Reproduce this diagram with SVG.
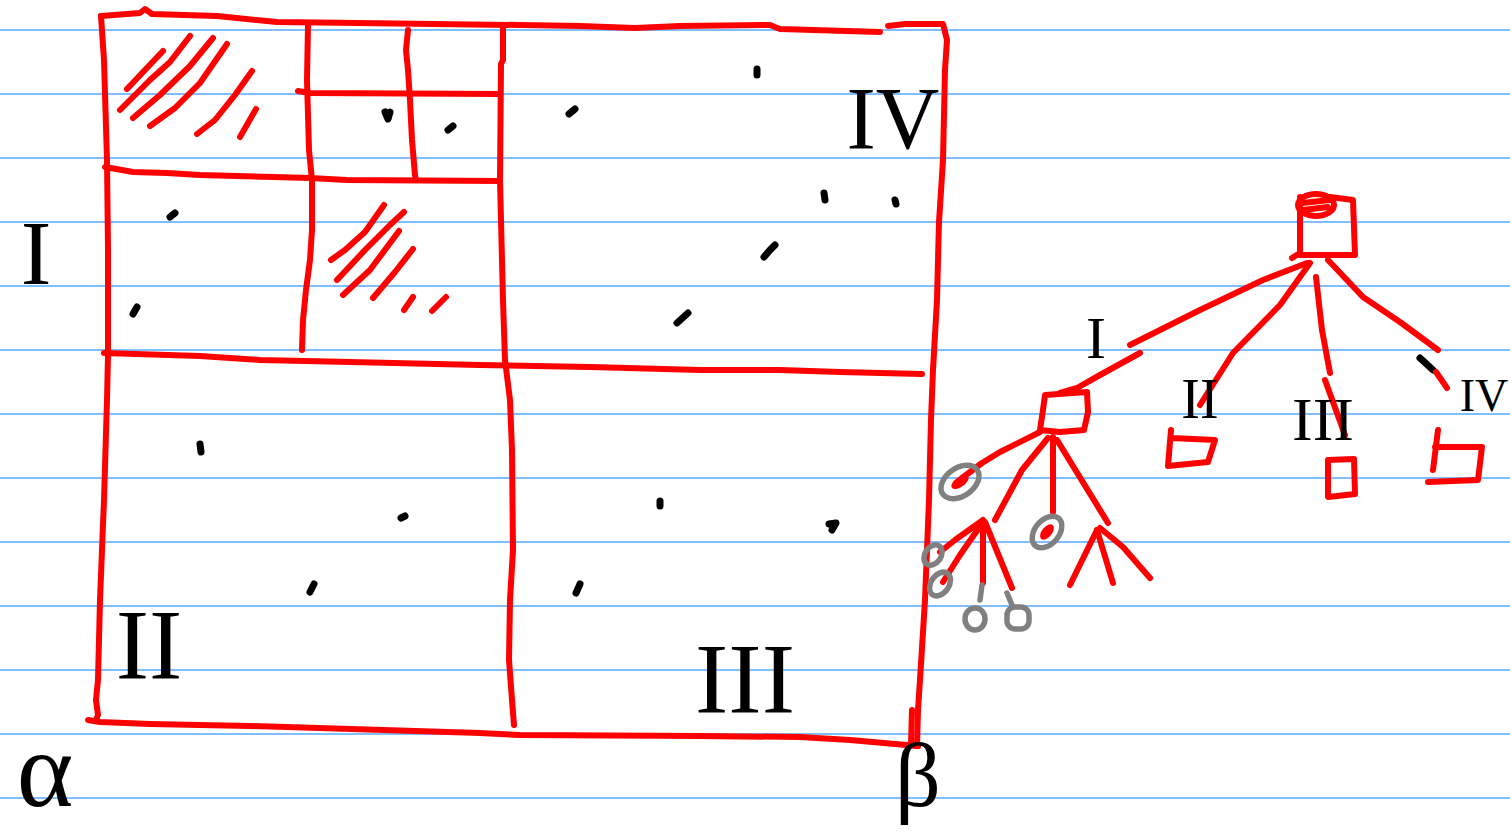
<svg xmlns="http://www.w3.org/2000/svg" width="1510" height="837" viewBox="0 0 1510 837">
<style>
.rule{stroke:#55aaff;stroke-width:1.6}
.r{fill:none;stroke:#ff0000;stroke-width:6;stroke-linecap:round;stroke-linejoin:round}
.k{fill:none;stroke:#000;stroke-width:7;stroke-linecap:round;stroke-linejoin:round}
.g{fill:none;stroke:#808080;stroke-width:5.5;stroke-linecap:round;stroke-linejoin:round}
.lbl{font-family:"Liberation Serif","DejaVu Serif",serif;fill:#000}
</style>
<rect width="1510" height="837" fill="#fff"/>
<g id="ruled-lines">
<line class="rule" x1="0" y1="30" x2="1510" y2="30"/>
<line class="rule" x1="0" y1="94" x2="1510" y2="94"/>
<line class="rule" x1="0" y1="158" x2="1510" y2="158"/>
<line class="rule" x1="0" y1="222" x2="1510" y2="222"/>
<line class="rule" x1="0" y1="286" x2="1510" y2="286"/>
<line class="rule" x1="0" y1="350" x2="1510" y2="350"/>
<line class="rule" x1="0" y1="414" x2="1510" y2="414"/>
<line class="rule" x1="0" y1="478" x2="1510" y2="478"/>
<line class="rule" x1="0" y1="542" x2="1510" y2="542"/>
<line class="rule" x1="0" y1="606" x2="1510" y2="606"/>
<line class="rule" x1="0" y1="670" x2="1510" y2="670"/>
<line class="rule" x1="0" y1="734" x2="1510" y2="734"/>
<line class="rule" x1="0" y1="798" x2="1510" y2="798"/>
</g>
<g id="grid">
<path class="r" d="M101,16 L140,13 L145,9 L152,14 L217,16 L277,22 L357,23 L520,25 L580,26 L635,28 L680,26 L770,25 L780,29 L880,32"/>
<path class="r" d="M888,26 L905,24 L943,24 L947,40 L945,70 L943,160 L939,222 L937,300 L933,370 L931,420 L929,500 L925,600 L920,680 L918,710 L917,746"/>
<path class="r" d="M912,710 L911,745 L918,746"/>
<path class="r" d="M101,16 L104,60 L107,160 L108,250 L108,355 L107,400 L104,500 L100,600 L98,680 L96,700 L98,715 L96,720"/>
<path class="r" d="M88,720 L100,722 L150,724 L250,726 L480,733 L520,735 L700,736 L800,737 L850,740 L918,746"/>
<path class="r" d="M503,28 L503,60 L501,64 L500,180 L502,260 L503,300 L505,360 L510,400 L512,450 L513,550 L510,600 L509,660 L512,700 L514,725"/>
<path class="r" d="M104,353 L200,356 L260,360 L350,362 L480,365 L590,367 L700,370 L780,370 L840,372 L922,374"/>
<path class="r" d="M105,167 L133,172 L167,173 L200,175 L273,177 L310,178 L347,180 L500,181"/>
<path class="r" d="M308,25 L307,80 L309,150 L312,180 L312,230 L310,260 L306,290 L303,320 L302,350"/>
<path class="r" d="M298,91 L310,93 L500,94"/>
<path class="r" d="M408,30 L406,50 L408,70 L410,100 L412,140 L415,175 L416,180"/>
</g>
<g id="hatching">
<path class="r" d="M127,89 L163,51"/>
<path class="r" d="M120,110 L150,80 L170,62 L190,36"/>
<path class="r" d="M133,118 L160,95 L190,66 L213,38"/>
<path class="r" d="M150,126 L175,108 L200,83 L227,44"/>
<path class="r" d="M197,134 L215,120 L235,95 L252,71"/>
<path class="r" d="M240,137 L256,109"/>
<path class="r" d="M331,260 L345,250 L365,232 L384,205"/>
<path class="r" d="M337,280 L365,250 L390,225 L404,212"/>
<path class="r" d="M343,295 L370,270 L399,231"/>
<path class="r" d="M373,298 L395,272 L413,249"/>
<path class="r" d="M404,310 L413,297"/>
<path class="r" d="M432,311 L446,297"/>
</g>
<g id="dots">
<path class="k" d="M385,112 L388,119 L390,112"/>
<path class="k" d="M448,130 L453,126"/>
<path class="k" d="M757,69 L757,75"/>
<path class="k" d="M569,114 L575,109"/>
<path class="k" d="M824,193 L825,200"/>
<path class="k" d="M895,200 L896,204"/>
<path class="k" d="M764,257 L770,250 L775,245"/>
<path class="k" d="M677,323 L688,313"/>
<path class="k" d="M170,217 L175,213"/>
<path class="k" d="M133,314 L137,307"/>
<path class="k" d="M200,444 L201,452"/>
<path class="k" d="M401,518 L405,516"/>
<path class="k" d="M310,592 L314,584"/>
<path class="k" d="M660,501 L660,506"/>
<path class="k" d="M829,524 L836,523 L832,530"/>
<path class="k" d="M576,593 L580,584"/>
</g>
<g id="labels">
<text class="lbl" x="36" y="284" font-size="92" text-anchor="middle">I</text>
<text class="lbl" x="149" y="678" font-size="100" text-anchor="middle">II</text>
<text class="lbl" x="745" y="712" font-size="100" text-anchor="middle">III</text>
<text class="lbl" x="893" y="148" font-size="88" text-anchor="middle">IV</text>
<text class="lbl" x="45" y="806" font-size="108" text-anchor="middle">α</text>
<text class="lbl" x="918" y="806" font-size="90" text-anchor="middle">β</text>
</g>
<g id="connectors">
<path class="r" d="M1307,263 L1263,280 L1200,310 L1130,345"/>
<path class="r" d="M1310,263 L1280,305 L1233,353 L1200,405"/>
<path class="r" d="M1316,277 L1322,330 L1330,373"/>
<path class="r" d="M1325,380 L1345,435"/>
<path class="r" d="M1328,260 L1363,297 L1400,322 L1438,350"/>
<path class="k" d="M1420,358 L1433,370"/>
<path class="r" d="M1436,372 L1447,388"/>
<path class="r" d="M1140,353 L1100,375 L1077,388 L1060,393"/>
<path class="r" d="M1040,432 L1000,452 L982,463 L962,478"/>
<path class="r" d="M1048,438 L1022,470 L995,520"/>
<path class="r" d="M1053,437 L1053,512"/>
<path class="r" d="M1057,440 L1108,523"/>
<path class="r" d="M1097,530 L1070,585"/>
<path class="r" d="M1097,530 L1113,583"/>
<path class="r" d="M1100,528 L1123,547 L1150,578"/>
<path class="r" d="M983,520 L955,540 L940,552"/>
<path class="r" d="M983,522 L960,555 L943,582"/>
<path class="r" d="M983,522 L983,583"/>
<path class="g" d="M982,585 L980,600"/>
<path class="r" d="M985,522 L1012,588"/>
<path class="g" d="M1007,593 L1012,605"/>
</g>
<g id="tree-root">
<ellipse class="r" cx="1316" cy="205" rx="18" ry="11"/>
<path class="r" d="M1302,203 L1330,200 M1303,210 L1328,207"/>
<path class="r" d="M1300,197 L1300,255 L1355,255 L1353,200 L1330,197"/>
<path class="r" d="M1292,258 L1300,253"/>
</g>
<g id="tree-label-I"><text class="lbl" x="1096" y="358" font-size="60" text-anchor="middle">I</text></g>
<g id="tree-label-II"><text class="lbl" x="1200" y="418" font-size="56" text-anchor="middle">II</text></g>
<g id="tree-label-III"><text class="lbl" x="1323" y="440" font-size="62" text-anchor="middle">III</text></g>
<g id="tree-label-IV"><text class="lbl" x="1484" y="411" font-size="46" text-anchor="middle" font-family="Liberation Sans, sans-serif">IV</text></g>
<g id="node-I"><path class="r" d="M1045,395 L1087,392 L1088,412 L1084,430 L1060,432 L1040,430 L1043,410 Z"/></g>
<g id="node-II"><path class="r" d="M1171,430 L1168,466 L1208,462 L1215,440 L1172,438"/></g>
<g id="node-III"><path class="r" d="M1328,460 L1354,459 L1355,494 L1328,497 Z"/></g>
<g id="node-IV"><path class="r" d="M1438,430 L1433,470 M1435,447 L1482,447 L1478,480 L1428,482"/></g>
<g id="node-A"><ellipse cx="960" cy="482" rx="10" ry="5" fill="#ff0000" transform="rotate(-35 960 482)"/><ellipse class="g" cx="960" cy="482" rx="21" ry="14" transform="rotate(-35 960 482)"/></g>
<g id="node-C"><ellipse cx="1047" cy="532" rx="9" ry="5" fill="#ff0000" transform="rotate(-50 1047 532)"/><ellipse class="g" cx="1047" cy="532" rx="18" ry="12" transform="rotate(-50 1047 532)"/></g>
<g id="node-E"><ellipse class="g" cx="933" cy="555" rx="8" ry="11" transform="rotate(35 933 555)"/></g>
<g id="node-F"><ellipse class="g" cx="940" cy="584" rx="9" ry="13" transform="rotate(35 940 584)"/></g>
<g id="node-G"><ellipse class="g" cx="975" cy="619" rx="10" ry="11"/></g>
<g id="node-H"><rect class="g" x="1007" y="607" width="22" height="22" rx="8"/></g>
</svg>
